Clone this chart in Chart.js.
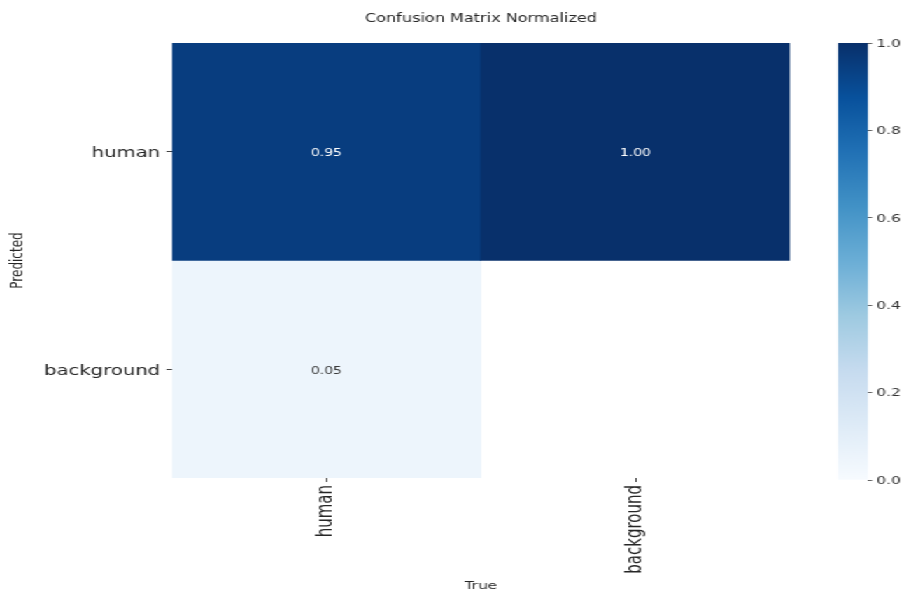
<!DOCTYPE html>
<html>
<head>
<meta charset="utf-8">
<script src="https://cdn.jsdelivr.net/npm/chart.js@4.4.1/dist/chart.umd.min.js"></script>
<style>
  html, body { margin: 0; padding: 0; background: #ffffff; overflow: hidden; }
  #stage {
    position: absolute; left: 0; top: 0;
    width: 646px; height: 595px;
    transform: scaleX(1.3994); transform-origin: 0 0;
  }
  #matrix { position: absolute; left: 0; top: 0; }
  #cbar { position: absolute; left: 590px; top: 0; }
</style>
</head>
<body>
<div id="stage">
  <canvas id="matrix" width="590" height="595"></canvas>
  <canvas id="cbar" width="56" height="595"></canvas>
</div>
<script>
// ---- data ----
const trueLabels = ['human', 'background'];        // columns (x)
const predictedLabels = ['human', 'background'];   // rows, top to bottom (y)
const rowHuman = [0.95, 1.00];
const rowBackground = [0.05, 0.00];
const colorbarTicks = [0.0, 0.2, 0.4, 0.6, 0.8, 1.0];

const chartTitle = 'Confusion Matrix Normalized';
const xTitle = 'True';
const yTitle = 'Predicted';

// matplotlib "Blues" colormap anchors
const BLUES = ['#f7fbff', '#deebf7', '#c6dbef', '#9ecae1', '#6baed6',
               '#4292c6', '#2171b5', '#08519c', '#08306b'];

function hexToRgb(h) {
  return [parseInt(h.slice(1, 3), 16), parseInt(h.slice(3, 5), 16), parseInt(h.slice(5, 7), 16)];
}
function blues(v) {
  const t = Math.max(0, Math.min(1, v)) * (BLUES.length - 1);
  const i = Math.min(BLUES.length - 2, Math.floor(t));
  const f = t - i;
  const a = hexToRgb(BLUES[i]), b = hexToRgb(BLUES[i + 1]);
  const c = a.map((x, k) => Math.round(x + (b[k] - x) * f));
  return `rgb(${c[0]},${c[1]},${c[2]})`;
}
// values below 0.005 are left blank
function cellColor(v) { return v < 0.005 ? 'rgba(0,0,0,0)' : blues(v); }

const rows = [rowHuman, rowBackground];
const nRows = predictedLabels.length;

const datasets = rows.map((vals, r) => ({
  label: predictedLabels[r],
  data: vals.map(() => [nRows - r - 1, nRows - r]),
  values: vals,
  backgroundColor: vals.map(cellColor),
  borderWidth: 0,
  barPercentage: 1,
  categoryPercentage: 1,
  grouped: false
}));

const TEXT = '#262626';

const annotate = {
  id: 'annotate',
  afterDatasetsDraw(chart) {
    const ctx = chart.ctx;
    ctx.save();
    ctx.font = '10px "DejaVu Sans"';
    ctx.textAlign = 'center';
    ctx.textBaseline = 'middle';
    chart.data.datasets.forEach((ds, di) => {
      const meta = chart.getDatasetMeta(di);
      meta.data.forEach((el, i) => {
        const v = ds.values[i];
        if (v < 0.005) return;
        const p = el.getProps(['x', 'y', 'base'], true);
        ctx.fillStyle = v > 0.5 ? '#ffffff' : '#3a3a3a';
        ctx.fillText(v.toFixed(2), p.x, (p.y + p.base) / 2 + 1.8);
      });
    });
    ctx.restore();
  },
  afterDraw(chart) {
    const ctx = chart.ctx;
    const a = chart.chartArea;
    const cx = (a.left + a.right) / 2;
    ctx.save();
    ctx.fillStyle = TEXT;
    ctx.textAlign = 'center';
    ctx.textBaseline = 'middle';
    ctx.font = '11.5px "DejaVu Sans"';
    ctx.fillText(chartTitle, cx, 19.5);
    ctx.font = '11px "DejaVu Sans"';
    ctx.fillText(xTitle, cx, 586);
    ctx.translate(12.9, (a.top + a.bottom) / 2);
    ctx.rotate(-Math.PI / 2);
    ctx.font = '12px "DejaVu Sans"';
    ctx.fillText(yTitle, 0, 0);
    ctx.restore();
  }
};

new Chart(document.getElementById('matrix'), {
  type: 'bar',
  data: { labels: trueLabels, datasets },
  options: {
    responsive: false,
    animation: false,
    devicePixelRatio: 1,
    layout: { padding: { left: 0, right: 25.5, top: 43, bottom: 0 } },
    plugins: { legend: { display: false }, tooltip: { enabled: false }, title: { display: false } },
    scales: {
      x: {
        type: 'category',
        offset: true,
        grid: { display: true, offset: false, drawOnChartArea: false, drawTicks: true, tickLength: 4, color: '#444' },
        border: { display: false },
        ticks: { color: TEXT, font: { family: 'DejaVu Sans', size: 15 }, maxRotation: 90, minRotation: 90, autoSkip: false, padding: 3 },
        afterFit(s) { s.height = 117; }
      },
      y: {
        type: 'linear',
        min: 0,
        max: nRows,
        grid: { display: true, drawOnChartArea: false, drawTicks: true, tickLength: 4, color: '#444' },
        border: { display: false },
        afterBuildTicks(s) { s.ticks = predictedLabels.map((_, r) => ({ value: nRows - r - 0.5 })); },
        ticks: {
          color: TEXT,
          font: { family: 'DejaVu Sans', size: 14 },
          padding: 4.5,
          labelOffset: 2,
          callback(v) { return predictedLabels[Math.round(nRows - 0.5 - v)]; }
        },
        afterFit(s) { s.width = 122.9; }
      }
    }
  },
  plugins: [annotate]
});

// ---- colour bar ----
new Chart(document.getElementById('cbar'), {
  type: 'bar',
  data: {
    labels: ['scale'],
    datasets: [{
      data: [[colorbarTicks[0], colorbarTicks[colorbarTicks.length - 1]]],
      borderWidth: 0,
      barPercentage: 1,
      categoryPercentage: 1,
      backgroundColor(c) {
        const a = c.chart.chartArea;
        if (!a) return BLUES[4];
        const g = c.chart.ctx.createLinearGradient(0, a.bottom, 0, a.top);
        BLUES.forEach((col, i) => g.addColorStop(i / (BLUES.length - 1), col));
        return g;
      }
    }]
  },
  options: {
    responsive: false,
    animation: false,
    devicePixelRatio: 1,
    layout: { padding: { left: 8.8, right: 0, top: 43, bottom: 115 } },
    plugins: { legend: { display: false }, tooltip: { enabled: false } },
    scales: {
      x: { display: false, offset: true },
      y: {
        position: 'right',
        min: 0,
        max: 1,
        grid: { display: true, drawOnChartArea: false, drawTicks: true, tickLength: 3, color: '#666' },
        border: { display: false },
        afterBuildTicks(s) { s.ticks = colorbarTicks.map(v => ({ value: v })); },
        ticks: { color: '#333', font: { family: 'DejaVu Sans', size: 11 }, padding: 3, labelOffset: 1, callback: v => Number(v).toFixed(1) },
        afterFit(s) { s.width = 56 - 8.8 - 21.5; }
      }
    }
  }
});
</script>
</body>
</html>
